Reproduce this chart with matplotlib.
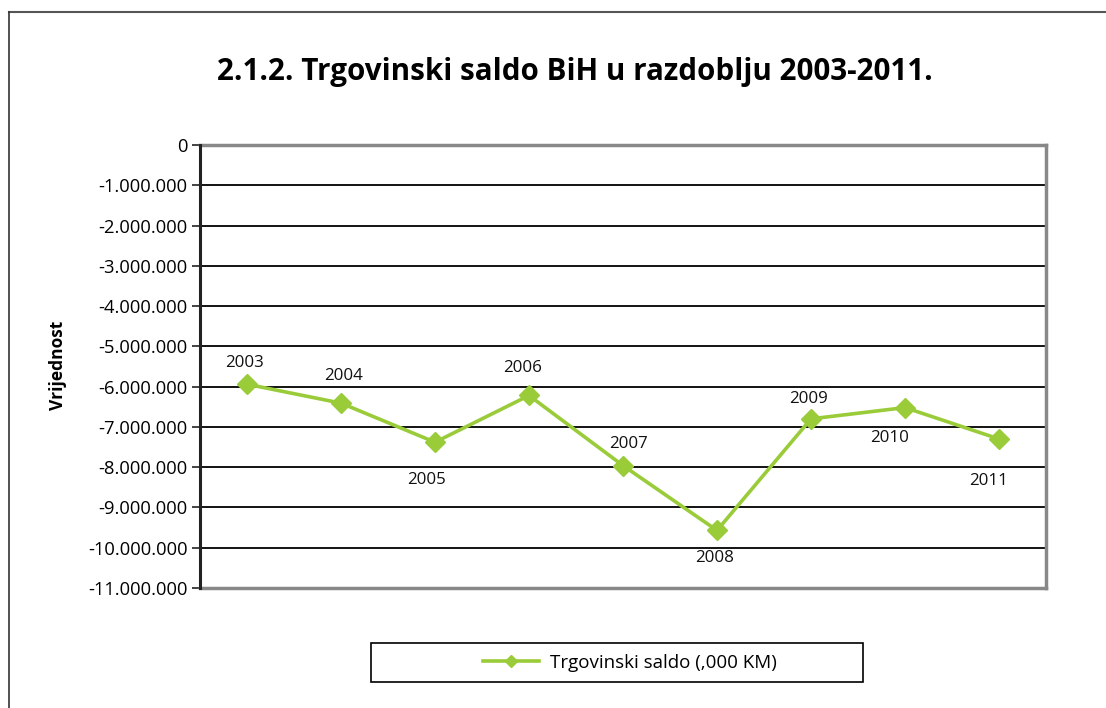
import matplotlib
matplotlib.use("Agg")
import matplotlib.pyplot as plt
from matplotlib.lines import Line2D
from matplotlib.patches import Rectangle
from matplotlib.ticker import FuncFormatter

plt.rcParams['font.family'] = ['Open Sans', 'DejaVu Sans']

years = ['2003', '2004', '2005', '2006', '2007', '2008', '2009', '2010', '2011']
saldo = [-5940000, -6410000, -7380000, -6220000, -7960000, -9570000, -6800000, -6520000, -7300000]
series_name = 'Trgovinski saldo (,000 KM)'
title = '2.1.2. Trgovinski saldo BiH u razdoblju 2003-2011.'
ylabel = 'Vrijednost'

# label offsets in pixels (layout only)
label_offsets = [(-2, 21), (3, 27), (-8, -38), (-6, 27), (6, 22), (-2, -28), (-3, 20), (-15, -30), (-10, -42)]

W, H = 1106, 708
fig = plt.figure(figsize=(W / 100, H / 100), dpi=100)

# outer frame (top + left visible)
fig.add_artist(Line2D([9 / W, 1.0], [1 - 12 / H, 1 - 12 / H], color='#555555', lw=1.5, transform=fig.transFigure))
fig.add_artist(Line2D([9 / W, 9 / W], [0, 1 - 12 / H], color='#333333', lw=1.2, transform=fig.transFigure))

ax = fig.add_axes([200 / W, 1 - 588 / H, (1046 - 200) / W, (588 - 145) / H])
x = list(range(len(years)))
color = '#9ACC3A'
ax.plot(x, saldo, color=color, lw=2.6, marker='D', ms=10.5, mec=color, mfc=color, label=series_name, zorder=3)

ax.set_xlim(-0.5, len(years) - 0.5)
ax.set_ylim(-11000000, 0)
ax.set_yticks([-i * 1000000 for i in range(12)])
ax.yaxis.set_major_formatter(FuncFormatter(lambda v, p: f"{int(v):,}".replace(',', '.')))
ax.set_xticks([])
ax.grid(axis='y', color='black', lw=1.3, zorder=1)
ax.tick_params(axis='y', length=6, width=1.2, color='#222222', labelsize=13.2, pad=3, direction='out')

for s in ['top', 'right', 'bottom']:
    ax.spines[s].set_color('#888888')
    ax.spines[s].set_linewidth(2.5)
ax.spines['left'].set_color('#222222')
ax.spines['left'].set_linewidth(2.2)
ax.spines['left'].set_zorder(4)

for xi, yi, lab, off in zip(x, saldo, years, label_offsets):
    ax.annotate(lab, (xi, yi), xytext=off, textcoords='offset pixels', ha='center', va='center', fontsize=12.2, color='#111111')

fig.text(58 / W, 1 - 365 / H, ylabel, rotation=90, fontsize=12.5, fontweight='bold', ha='center', va='center')

fig.text(575 / W, 1 - 72 / H, title, fontsize=21.3, fontweight='bold', ha='center', va='center')

# legend
fig.add_artist(Rectangle((371 / W, 1 - 682 / H), (863 - 371) / W, (682 - 643) / H, transform=fig.transFigure,
                         fill=False, edgecolor='black', lw=1.2))
handles, labels = ax.get_legend_handles_labels()
leg = fig.legend(handles, labels, loc='center', bbox_to_anchor=(630 / W, 1 - 662.5 / H), frameon=False,
                 fontsize=13.5, handlelength=3.0, handletextpad=0.6, markerscale=0.6)

fig.savefig('out.png', dpi=100)
